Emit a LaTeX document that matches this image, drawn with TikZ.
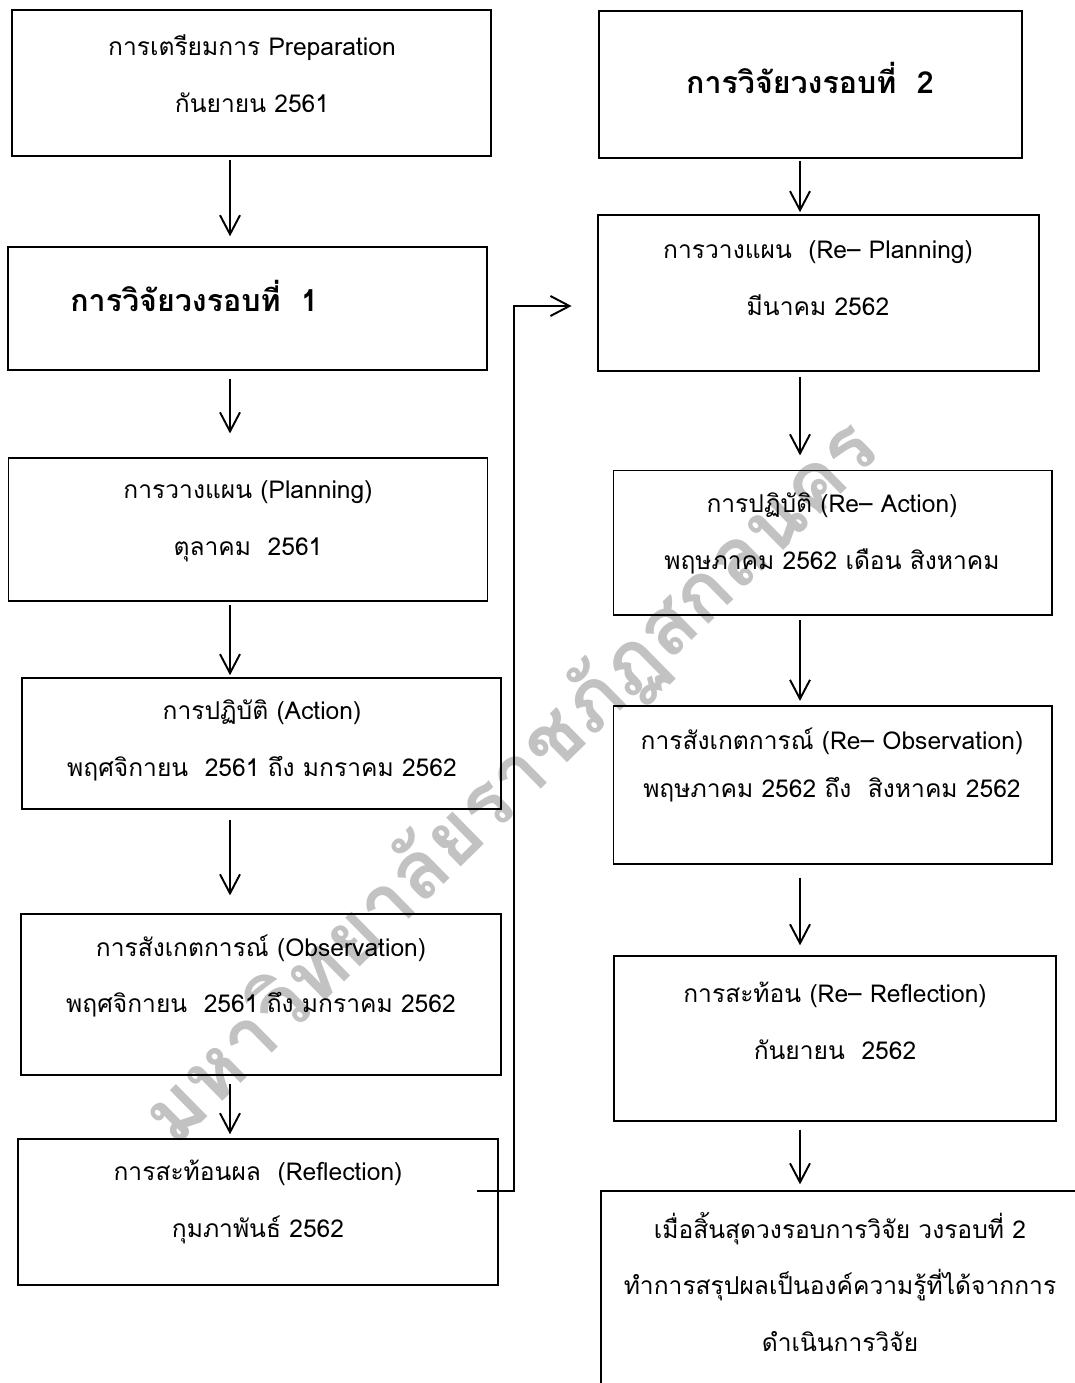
\documentclass[tikz,border=0pt]{standalone}
\usepackage{fontspec}
\newfontfamily\thaifont[Script=Thai]{Loma}
\usetikzlibrary{arrows.meta}

\begin{document}
\begin{tikzpicture}[x=0.02cm,y=-0.02cm]
  \path[use as bounding box] (0,0) rectangle (1075,1383);
  \clip (0,0) rectangle (1075,1383);
  \node[rotate=44.5,text=black!24,font=\thaifont\bfseries\fontsize{46}{46}\selectfont]
    (stamp) at (512,783) {มหาวิทยาลัยราชภัฏสกลนคร};
  \begin{scope}[
    every node/.style={font=\thaifont\fontsize{14}{32.4}\selectfont,align=center},
    box/.style={draw,line width=0.8pt,inner sep=0pt},
    heading/.style={font=\thaifont\bfseries\fontsize{17.3}{20}\selectfont},
    ]
    % round 1
    \node[box,minimum width=9.58cm,minimum height=2.92cm] (prep) at (251.5,83) {};
    \node (prep-t) at (252,73.5) {การเตรียมการ Preparation\\กันยายน 2561};
    \node[box,minimum width=9.58cm,minimum height=2.46cm] (round1) at (247.5,308.5) {};
    \node[heading,anchor=west,inner sep=0pt] (round1-t) at (70,296) {การวิจัยวงรอบที่~~1};
    \node[box,minimum width=9.59cm,minimum height=2.86cm] (plan) at (248,529.5) {};
    \node (plan-t) at (248,521.5) {การวางแผน (Planning)\\ตุลาคม~~2561};
    \node[box,minimum width=9.58cm,minimum height=2.62cm] (act) at (261.5,743.5) {};
    \node (act-t) at (262,740.5) {การปฏิบัติ (Action)\\พฤศจิกายน~~2561 ถึง มกราคม 2562};
    \node[box,minimum width=9.6cm,minimum height=3.22cm] (obs) at (261,994.5) {};
    \node (obs-t) at (261,976) {การสังเกตการณ์ (Observation)\\พฤศจิกายน~~2561 ถึง มกราคม 2562};
    \node[box,minimum width=9.6cm,minimum height=2.92cm] (refl) at (258,1212) {};
    \node (refl-t) at (258,1201.5) {การสะท้อนผล~~(Reflection)\\กุมภาพันธ์ 2562};
    % round 2
    \node[box,minimum width=8.46cm,minimum height=2.94cm] (round2) at (810.5,84.5) {};
    \node[heading] (round2-t) at (810,78) {การวิจัยวงรอบที่~~2};
    \node[box,minimum width=8.82cm,minimum height=3.12cm] (replan) at (818.5,293) {};
    \node (replan-t) at (818,278.5) {การวางแผน~~(Re– Planning)\\มีนาคม 2562};
    \node[box,minimum width=8.77cm,minimum height=2.89cm] (react) at (832.75,542.75) {};
    \node (react-t) at (832,533.5) {การปฏิบัติ (Re– Action)\\พฤษภาคม 2562 เดือน สิงหาคม};
    \node[box,minimum width=8.77cm,minimum height=3.16cm] (reobs) at (832.75,785) {};
    \node[font=\thaifont\fontsize{14}{27.2}\selectfont] (reobs-t) at (832,765)
      {การสังเกตการณ์ (Re– Observation)\\พฤษภาคม 2562 ถึง~~สิงหาคม 2562};
    \node[box,minimum width=8.84cm,minimum height=3.3cm] (rerefl) at (835,1038.5) {};
    \node (rerefl-t) at (835,1020.5) {การสะท้อน (Re– Reflection)\\กันยายน~~2562};
    \node[box,minimum width=9.58cm,minimum height=4.58cm] (final) at (840.5,1305.5) {};
    \node (final-t) at (840,1282) {เมื่อสิ้นสุดวงรอบการวิจัย วงรอบที่ 2\\ทำการสรุปผลเป็นองค์ความรู้ที่ได้จากการ\\ดำเนินการวิจัย};
  \end{scope}
  \coordinate (lx) at (230,0);
  \coordinate (rx) at (800,0);
  \coordinate (loop-a) at (477,1191);
  \coordinate (loop-b) at (514,306);
  \begin{scope}[
    every path/.style={draw,line width=1.1pt,>={Straight Barb[length=3.8mm,width=4mm]}},
    gap/.style 2 args={shorten <=#1,shorten >=#2},
    ]
    \path[->,gap={1.7pt}{5.7pt}] (prep.south -| lx) -- (round1.north -| lx);
    \path[->,gap={4.5pt}{13.6pt}] (round1.south -| lx) -- (plan.north -| lx);
    \path[->,gap={1.7pt}{1.2pt}] (plan.south -| lx) -- (act.north -| lx);
    \path[->,gap={5.7pt}{10.2pt}] (act.south -| lx) -- (obs.north -| lx);
    \path[->,gap={4.5pt}{2.3pt}] (obs.south -| lx) -- (refl.north -| lx);
    \path[->,gap={1.2pt}{1.2pt}] (round2.south -| rx) -- (replan.north -| rx);
    \path[->,gap={2.8pt}{8.2pt}] (replan.south -| rx) -- (react.north -| rx);
    \path[->,gap={2.3pt}{2.5pt}] (react.south -| rx) -- (reobs.north -| rx);
    \path[->,gap={7.4pt}{5.7pt}] (reobs.south -| rx) -- (rerefl.north -| rx);
    \path[->,gap={4.5pt}{3.4pt}] (rerefl.south -| rx) -- (final.north -| rx);
    \path[->,shorten >=14.7pt] (loop-a) -| (loop-b) -- (replan.west |- loop-b);
  \end{scope}
\end{tikzpicture}
\end{document}
